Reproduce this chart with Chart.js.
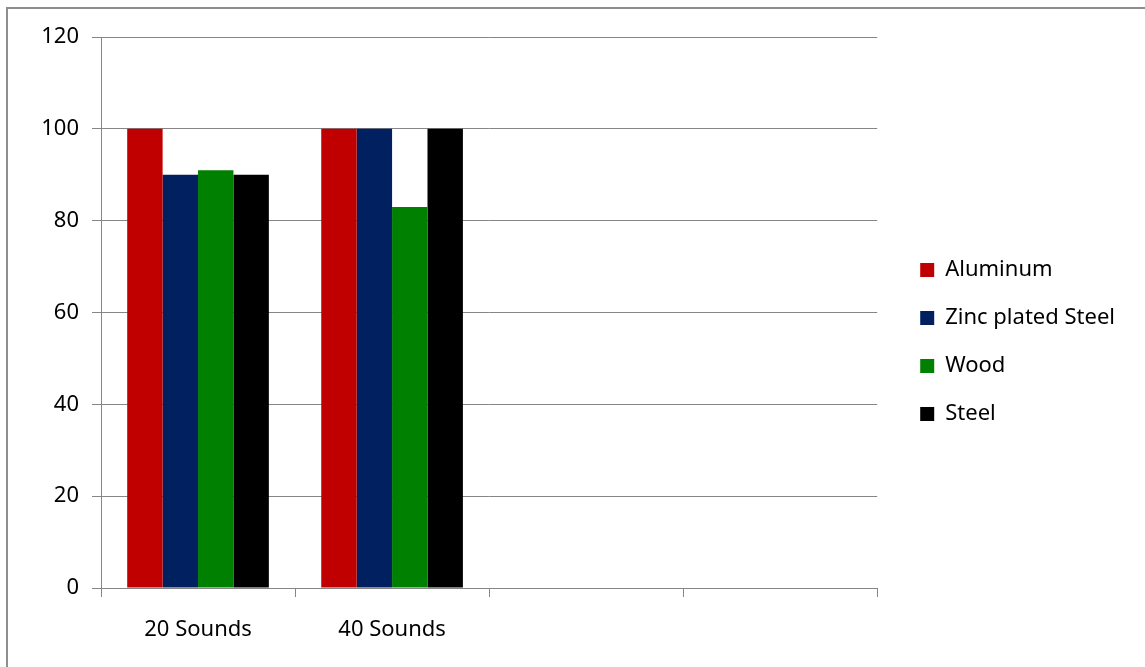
<!DOCTYPE html>
<html>
<head>
<meta charset="utf-8">
<script src="https://cdn.jsdelivr.net/npm/chart.js@4"></script>
<style>
  html, body { margin: 0; padding: 0; background: #fff; }
  #wrap { position: relative; width: 1145px; height: 667px; }
  #frame {
    position: absolute; left: 6px; top: 7px; right: 0; bottom: 0;
    border-left: 2px solid #8e8e8e; border-top: 2px solid #8e8e8e;
    pointer-events: none;
  }
  #chart { position: absolute; left: 0; top: 0; }
</style>
</head>
<body>
<div id="wrap">
  <canvas id="chart" width="1145" height="667"></canvas>
  <div id="frame"></div>
</div>
<script>
const categories = ["20 Sounds", "40 Sounds", "", ""];
const aluminum = [100, 100];
const zincSteel = [90, 100];
const wood = [91, 83];
const steel = [90, 100];
const yTicks = [0, 20, 40, 60, 80, 100, 120];

const gridCol = "#868686";
const font = { family: "'Noto Sans', 'Open Sans', sans-serif", size: 22 };

// nudge the legend a bit right/up, Chart.js ties its gap to the item spacing
const legendShift = {
    id: 'legendShift',
    afterLayout(chart) {
        const lg = chart.legend;
        const dx = 17, dy = -10;
        lg.left += dx; lg.right += dx;
        lg.top += dy; lg.bottom += dy;
    }
};

const ctx = document.getElementById("chart").getContext("2d");

const myChart = new Chart(ctx,
{
    type: 'bar',
    data:
    {
        labels: categories,
        datasets:
        [
            { label: "Aluminum", data: aluminum, backgroundColor: "#c00000" },
            { label: "Zinc plated Steel", data: zincSteel, backgroundColor: "#002060" },
            { label: "Wood", data: wood, backgroundColor: "#008000" },
            { label: "Steel", data: steel, backgroundColor: "#000000" }
        ]
    },
    plugins: [legendShift],
    options:
    {
        responsive: false,
        animation: false,
        layout: { padding: { left: 0, top: 37, right: 37, bottom: 0 } },
        datasets: { bar: { barPercentage: 1, categoryPercentage: 0.73, borderWidth: 0 } },
        plugins:
        {
            tooltip: { enabled: false },
            legend:
            {
                position: 'right',
                align: 'center',
                labels:
                {
                    boxWidth: 14,
                    boxHeight: 14,
                    padding: 26,
                    color: "#000",
                    font: font
                }
            }
        },
        scales:
        {
            x:
            {
                afterFit: (axis) => { axis.height = 79; },
                grid:
                {
                    offset: true,
                    drawOnChartArea: false,
                    drawTicks: true,
                    tickLength: 9,
                    color: gridCol,
                    lineWidth: 1
                },
                border: { display: true, color: gridCol, width: 1 },
                ticks: { color: "#000", font: font, padding: 20, maxRotation: 0 }
            },
            y:
            {
                min: 0,
                max: 120,
                afterFit: (axis) => { axis.width = 101; },
                afterBuildTicks: (axis) => { axis.ticks = yTicks.map(v => ({ value: v })); },
                grid:
                {
                    color: gridCol,
                    lineWidth: 1,
                    tickLength: 9
                },
                border: { display: true, color: gridCol, width: 1 },
                ticks: { color: "#000", font: font, padding: 13 }
            }
        }
    }
});
</script>
</body>
</html>
